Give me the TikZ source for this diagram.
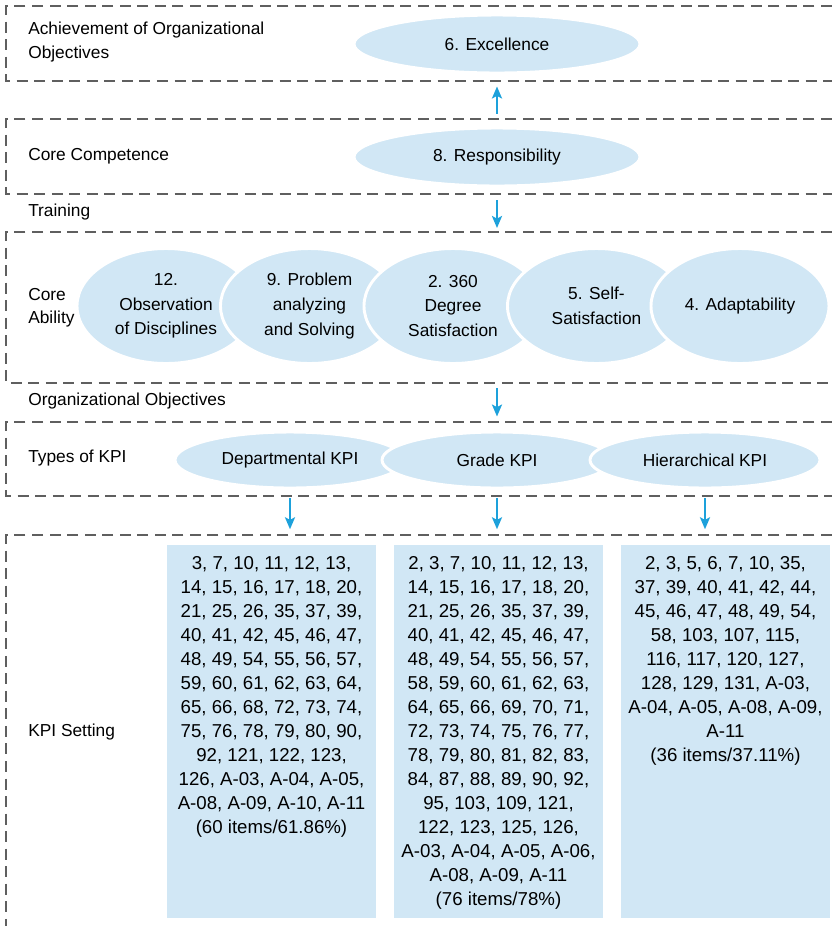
\documentclass[tikz,border=0pt]{standalone}
\usepackage{fontspec}
\setmainfont{Liberation Sans}
\usetikzlibrary{arrows.meta, positioning, shapes.geometric}

\definecolor{kpiblue}{RGB}{209,231,245}
\definecolor{flowblue}{RGB}{29,161,219}
\definecolor{dashgray}{RGB}{95,95,95}

\tikzset{
  band/.style={draw=dashgray, line width=1.1pt, dash pattern=on 8.25pt off 4.9pt},
  bubble/.style={ellipse, fill=kpiblue, draw=white, line width=2.2pt, inner sep=0pt, align=center, font=\fontsize{13}{18.4}\selectfont},
  topoval/.style={bubble, minimum width=214.5pt, minimum height=43.5pt},
  ability/.style={bubble, minimum width=133.5pt, minimum height=86.25pt},
  kpioval/.style={bubble, minimum width=172.5pt, minimum height=42pt},
  flow/.style={draw=flowblue, line width=2pt, -{Stealth[length=9pt,width=7.5pt,inset=2pt]}},
  kpibox/.style={rectangle, fill=kpiblue, inner sep=0pt, minimum width=156.75pt, minimum height=279.75pt},
  kpilist/.style={inner sep=0pt, align=center, font=\fontsize{14}{18}\selectfont},
  rowtext/.style={anchor=west, inner sep=0.75pt, align=left, font=\fontsize{13}{17.4}\selectfont}
}

\begin{document}
\begin{tikzpicture}[x=0.75pt,y=0.75pt,yscale=-1,xscale=1]
\useasboundingbox (0,0) rectangle (832,926);

%Dashed bands
\draw[band] (832,6) -| (6,81) -- (832,81) ;
\draw[band] (832,119) -| (6,194) -- (832,194) ;
\draw[band] (832,232) -| (6,383) -- (832,383) ;
\draw[band] (832,422) -| (6,496) -- (832,496) ;
\draw[band] (832,535) -| (6,926) ;

%Shape: Ellipse
\node[topoval] (exc) at (497,44) {6. Excellence};
%Shape: Ellipse
\node[topoval] (resp) at (497,157) {8. Responsibility};

%Shape: Ellipse
\node[ability] (obs) at (166,306) {12.\\Observation\\of Disciplines};
%Shape: Ellipse
\node[ability] (prob) at (309.5,306) {9. Problem\\analyzing\\and Solving};
%Shape: Ellipse
\node[ability] (deg) at (453,306) {2. 360\\Degree\\Satisfaction};
%Shape: Ellipse
\node[ability] (self) at (596.5,306) {5. Self-\\Satisfaction};
%Shape: Ellipse
\node[ability] (adapt) at (740,306) {4. Adaptability};

%Shape: Ellipse
\node[kpioval] (dept) at (290,460) {Departmental KPI};
%Shape: Ellipse
\node[kpioval] (grade) at (497,460) {Grade KPI};
%Shape: Ellipse
\node[kpioval] (hier) at (705,460) {Hierarchical KPI};

%Shape: Rectangle
\node[kpibox] (dbox) at (271.5,731.5) {};
\node[kpibox] (gbox) at (498.5,731.5) {};
\node[kpibox] (hbox) at (725.5,731.5) {};

% Text Node
\node[kpilist, below=8.5pt of dbox.north] (dlist) {3, 7, 10, 11, 12, 13,\\14, 15, 16, 17, 18, 20,\\21, 25, 26, 35, 37, 39,\\40, 41, 42, 45, 46, 47,\\48, 49, 54, 55, 56, 57,\\59, 60, 61, 62, 63, 64,\\65, 66, 68, 72, 73, 74,\\75, 76, 78, 79, 80, 90,\\92, 121, 122, 123,\\126, A-03, A-04, A-05,\\A-08, A-09, A-10, A-11\\(60 items/61.86\%)};
% Text Node
\node[kpilist, below=8.5pt of gbox.north] (glist) {2, 3, 7, 10, 11, 12, 13,\\14, 15, 16, 17, 18, 20,\\21, 25, 26, 35, 37, 39,\\40, 41, 42, 45, 46, 47,\\48, 49, 54, 55, 56, 57,\\58, 59, 60, 61, 62, 63,\\64, 65, 66, 69, 70, 71,\\72, 73, 74, 75, 76, 77,\\78, 79, 80, 81, 82, 83,\\84, 87, 88, 89, 90, 92,\\95, 103, 109, 121,\\122, 123, 125, 126,\\A-03, A-04, A-05, A-06,\\A-08, A-09, A-11\\(76 items/78\%)};
% Text Node
\node[kpilist, below=8.5pt of hbox.north] (hlist) {2, 3, 5, 6, 7, 10, 35,\\37, 39, 40, 41, 42, 44,\\45, 46, 47, 48, 49, 54,\\58, 103, 107, 115,\\116, 117, 120, 127,\\128, 129, 131, A-03,\\A-04, A-05, A-08, A-09,\\A-11\\(36 items/37.11\%)};

% Text Node
\node[rowtext] (achlab) at (27,42) {Achievement of Organizational\\Objectives};
% Text Node
\node[rowtext] (complab) at (27,156) {Core Competence};
% Text Node
\node[rowtext] (trainlab) at (27,212) {Training};
% Text Node
\node[rowtext] (abillab) at (27,308) {Core\\Ability};
% Text Node
\node[rowtext] (objlab) at (27,401) {Organizational Objectives};
% Text Node
\node[rowtext] (typelab) at (27,458) {Types of KPI};
% Text Node
\node[rowtext] (setlab) at (27,732) {KPI Setting};

%Straight Lines
\coordinate (trainend) at (497,228);
\coordinate (objstart) at (497,388);
\draw[flow, shorten <=9.75pt, shorten >=9pt] (resp.north) -- (exc.south) ;
\draw[flow, shorten <=9.75pt] (resp.south) -- (trainend) ;
\draw[flow, shorten >=10.5pt] (objstart) -- (grade.north) ;
\draw[flow, shorten <=6.75pt, shorten >=11.6pt] (dept.south) -- (dept.south |- dbox.north) ;
\draw[flow, shorten <=6.75pt, shorten >=11.6pt] (grade.south) -- (grade.south |- gbox.north) ;
\draw[flow, shorten <=6.75pt, shorten >=11.6pt] (hier.south) -- (hier.south |- hbox.north) ;

\end{tikzpicture}
\end{document}
